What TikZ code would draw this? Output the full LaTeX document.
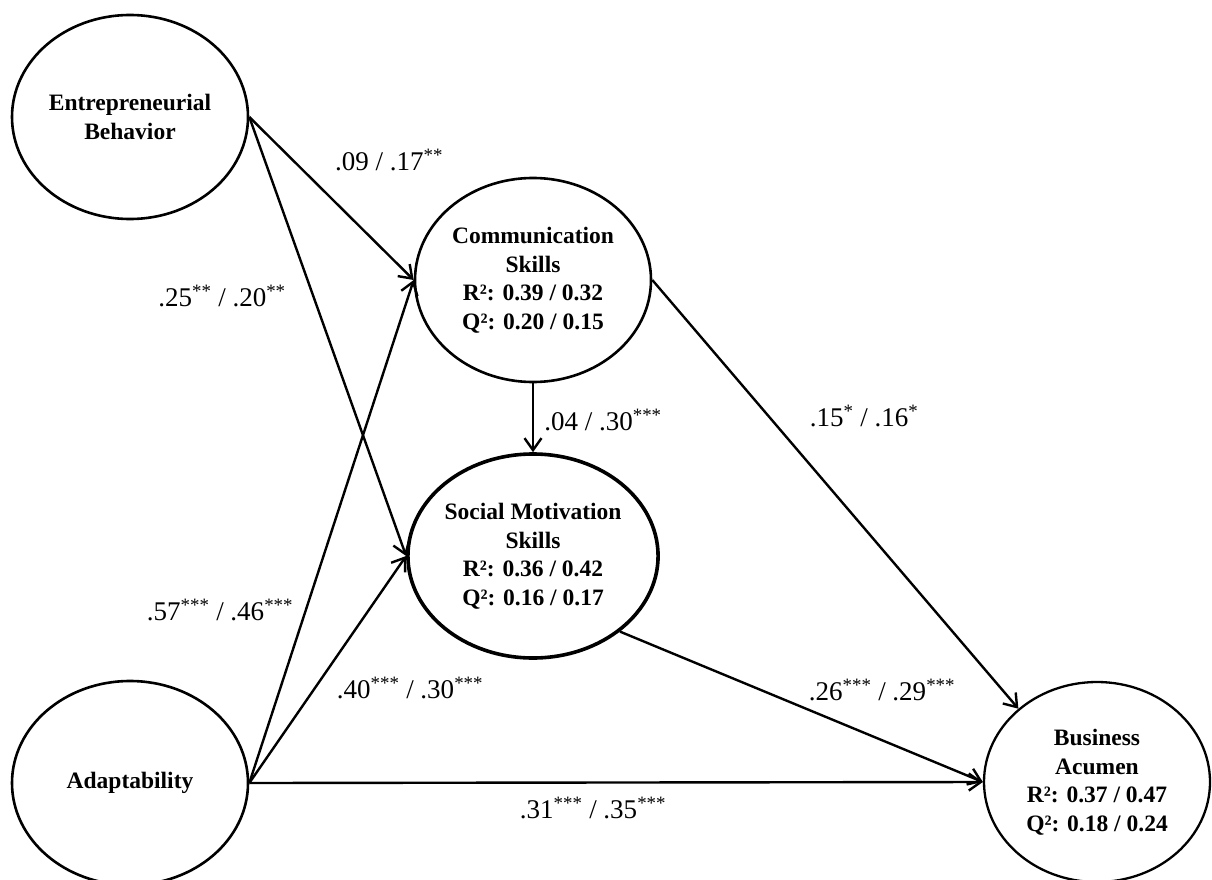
\documentclass[tikz,border=0pt]{standalone}
\usepackage{fontspec}
\setmainfont{Liberation Serif}
\usetikzlibrary{shapes.geometric,arrows.meta}
\begin{document}
\begin{tikzpicture}[x=1pt,y=-1pt,
  latent/.style={ellipse,draw,line width=2.6pt,minimum width=236pt,minimum height=204pt,inner sep=0pt,align=center,font=\fontsize{23.5}{28.5}\selectfont\bfseries},
  path/.style={line width=2.4pt,-{Straight Barb[length=12pt,width=17pt,line width=2.4pt]}},
  coef/.style={font=\fontsize{27}{32}\selectfont,inner sep=0pt}]
\useasboundingbox (0,0) rectangle (1212,880);
\node[latent] (eb) at (130,117) {Entrepreneurial\\Behavior};
\node[latent] (ad) at (130,783) {Adaptability};
\node[latent] (cs) at (533,280) {Communication\\Skills\\R²: 0.39 / 0.32\\Q²: 0.20 / 0.15};
\node[latent,line width=3.6pt] (sm) at (533,556) {Social Motivation\\Skills\\R²: 0.36 / 0.42\\Q²: 0.16 / 0.17};
\node[latent,line width=2.3pt,minimum width=226pt,minimum height=200pt] (ba) at (1097,782) {Business\\Acumen\\R²: 0.37 / 0.47\\Q²: 0.18 / 0.24};
\draw[path] (eb.east) -- (cs.west);
\draw[path] (eb.east) -- (sm.west);
\draw[path] (ad.east) -- (cs.west);
\draw[path] (ad.east) -- (sm.west);
\draw[path] (ad.east) -- (ba.west);
\draw[path] (cs.south) -- (sm.north);
\draw[path] (cs.east) -- (ba.137);
\draw[path] (sm.-41) -- (ba.west);
\node[coef] (l1) at (389,160) {.09 / .17\textsuperscript{**}};
\node[coef] (l2) at (222,296) {.25\textsuperscript{**} / .20\textsuperscript{**}};
\node[coef] (l3) at (603,420) {.04 / .30\textsuperscript{***}};
\node[coef] (l4) at (864,416) {.15\textsuperscript{*} / .16\textsuperscript{*}};
\node[coef] (l5) at (220,610) {.57\textsuperscript{***} / .46\textsuperscript{***}};
\node[coef] (l6) at (410,688) {.40\textsuperscript{***} / .30\textsuperscript{***}};
\node[coef] (l7) at (882,690) {.26\textsuperscript{***} / .29\textsuperscript{***}};
\node[coef] (l8) at (593,808) {.31\textsuperscript{***} / .35\textsuperscript{***}};
\end{tikzpicture}
\end{document}
